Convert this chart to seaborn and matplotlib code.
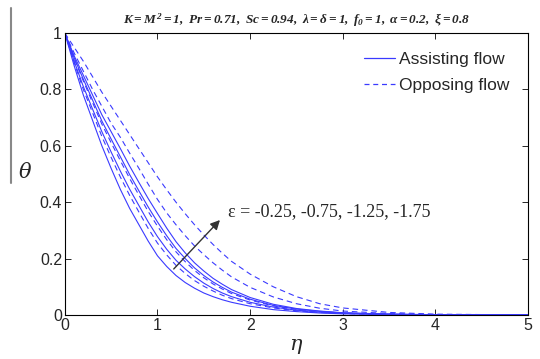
import matplotlib
matplotlib.use("Agg")
import matplotlib.pyplot as plt
import pandas as pd
import seaborn as sns
from matplotlib.lines import Line2D

eta = [0, 0.1, 0.2, 0.3, 0.4, 0.5, 0.6, 0.7, 0.8, 0.9, 1.0, 1.1, 1.2, 1.3,
       1.4, 1.5, 1.6, 1.7, 1.8, 2.0, 2.25, 2.5, 2.75, 3.0, 3.5, 4.0, 5.0]

# assisting flow (solid), eps = -0.25, -0.75, -1.25, -1.75
assist_1 = [1, 0.885, 0.78, 0.69, 0.60, 0.52, 0.445, 0.378, 0.32, 0.262, 0.21, 0.172,
            0.14, 0.115, 0.095, 0.078, 0.065, 0.054, 0.045, 0.031, 0.019, 0.012,
            0.007, 0.004, 0.0015, 0.0005, 0]
assist_2 = [1, 0.901, 0.81, 0.73, 0.65, 0.578, 0.51, 0.446, 0.388, 0.33, 0.278, 0.233,
            0.194, 0.163, 0.136, 0.113, 0.094, 0.078, 0.065, 0.045, 0.028, 0.017,
            0.010, 0.006, 0.002, 0.0007, 0]
assist_3 = [1, 0.913, 0.836, 0.762, 0.688, 0.624, 0.561, 0.498, 0.44, 0.383, 0.33, 0.281,
            0.236, 0.2, 0.167, 0.14, 0.117, 0.098, 0.081, 0.056, 0.034, 0.021,
            0.013, 0.007, 0.0027, 0.0009, 0]
assist_4 = [1, 0.92, 0.85, 0.78, 0.71, 0.65, 0.59, 0.528, 0.47, 0.413, 0.36, 0.308,
            0.26, 0.22, 0.185, 0.156, 0.13, 0.109, 0.09, 0.062, 0.038, 0.023,
            0.014, 0.008, 0.003, 0.001, 0]

# opposing flow (dashed)
oppose_1 = [1, 0.896, 0.80, 0.717, 0.633, 0.559, 0.489, 0.424, 0.365, 0.307, 0.255, 0.213,
            0.176, 0.147, 0.122, 0.102, 0.085, 0.07, 0.058, 0.040, 0.025, 0.015,
            0.009, 0.005, 0.002, 0.0007, 0]
oppose_2 = [1, 0.91, 0.83, 0.753, 0.677, 0.611, 0.547, 0.484, 0.425, 0.367, 0.315, 0.267,
            0.224, 0.189, 0.158, 0.132, 0.11, 0.092, 0.076, 0.053, 0.032, 0.02,
            0.012, 0.007, 0.0025, 0.0008, 0]
oppose_3 = [1, 0.93, 0.865, 0.80, 0.74, 0.68, 0.63, 0.574, 0.52, 0.464, 0.41, 0.362,
            0.32, 0.281, 0.245, 0.214, 0.185, 0.159, 0.135, 0.098, 0.064, 0.04,
            0.024, 0.014, 0.005, 0.0015, 0]
oppose_4 = [1, 0.95, 0.90, 0.845, 0.79, 0.74, 0.69, 0.64, 0.59, 0.54, 0.49, 0.444,
            0.40, 0.359, 0.32, 0.284, 0.25, 0.219, 0.19, 0.145, 0.10, 0.065,
            0.04, 0.025, 0.009, 0.003, 0]

x_ticks = [0, 1, 2, 3, 4, 5]
y_ticks = [0, 0.2, 0.4, 0.6, 0.8, 1]
y_tick_labels = ["0", "0.2", "0.4", "0.6", "0.8", "1"]

title = r"$K = M^2 = 1,\ Pr = 0.71,\ Sc = 0.94,\ \lambda = \delta = 1,\ f_0 = 1,\ \alpha = 0.2,\ \xi = 0.8$"
eps_text = "\u03b5 = -0.25, -0.75, -1.25, -1.75"

sns.set_style("ticks", {"xtick.direction": "in", "ytick.direction": "in"})
plt.rcParams["font.family"] = ["Liberation Sans", "DejaVu Sans"]
plt.rcParams["mathtext.fontset"] = "custom"
plt.rcParams["mathtext.rm"] = "Liberation Serif:bold:italic"
plt.rcParams["mathtext.it"] = "Liberation Serif:bold:italic"
plt.rcParams["mathtext.bf"] = "Liberation Serif:bold:italic"

blue = "#3a3aff"

frames = []
for name, vals in [("a1", assist_1), ("a2", assist_2), ("a3", assist_3), ("a4", assist_4)]:
    frames.append(pd.DataFrame({"eta": eta, "theta": vals, "curve": name, "flow": "Assisting flow"}))
for name, vals in [("o1", oppose_1), ("o2", oppose_2), ("o3", oppose_3), ("o4", oppose_4)]:
    frames.append(pd.DataFrame({"eta": eta, "theta": vals, "curve": name, "flow": "Opposing flow"}))
df = pd.concat(frames, ignore_index=True)

fig = plt.figure(figsize=(5.4, 3.59), dpi=100)
ax = fig.add_axes([0.120, 0.1226, 0.858, 0.7854])

for name, sub in df.groupby("curve", sort=False):
    dashed = sub["flow"].iloc[0] == "Opposing flow"
    sns.lineplot(data=sub, x="eta", y="theta", ax=ax, color=blue, lw=0.8,
                 linestyle=(0, (5, 3.5)) if dashed else "-", legend=False)

ax.set_xlim(0, 5)
ax.set_ylim(0, 1)
ax.set_xticks(x_ticks)
ax.set_xticklabels([str(t) for t in x_ticks], fontsize=11.5)
ax.set_yticks(y_ticks)
ax.set_yticklabels(y_tick_labels, fontsize=11.5)
ax.tick_params(axis="both", which="both", direction="in", length=4, width=0.7,
               top=True, right=True, pad=2)
for sp in ax.spines.values():
    sp.set_visible(True)
    sp.set_linewidth(0.8)
    sp.set_color("black")

ax.set_xlabel(r"$\eta$", fontsize=15, labelpad=3,
              math_fontfamily="dejavuserif")
ax.set_ylabel(r"$\theta$", fontsize=15, rotation=0, labelpad=6,
              math_fontfamily="dejavuserif")
ax.yaxis.set_label_coords(-0.085, 0.47)

ax.set_title(title, fontsize=9.5, pad=7)

handles = [Line2D([], [], color=blue, lw=0.9, linestyle="-"),
           Line2D([], [], color=blue, lw=0.9, linestyle=(0, (4, 3)))]
leg = ax.legend(handles, ["Assisting flow", "Opposing flow"], loc="upper right",
                fontsize=12.5, frameon=True, fancybox=False, handlelength=1.8,
                borderaxespad=0.8, handletextpad=0.2, labelspacing=0.6,
                borderpad=0.3)
leg.get_frame().set_edgecolor("white")
leg.get_frame().set_linewidth(0.6)

ax.annotate("", xy=(1.695, 0.344), xytext=(1.155, 0.156),
            arrowprops=dict(arrowstyle="-|>", color="#333333", lw=1.0,
                            mutation_scale=14))
ax.text(1.76, 0.365, eps_text, fontsize=13, family=["Liberation Serif", "DejaVu Serif"],
        va="center", ha="left")

fig.add_artist(Line2D([11 / 540, 11 / 540], [1 - 8 / 359, 1 - 183 / 359],
                      color="#888888", lw=1.5))

fig.savefig("out.png", dpi=100)
